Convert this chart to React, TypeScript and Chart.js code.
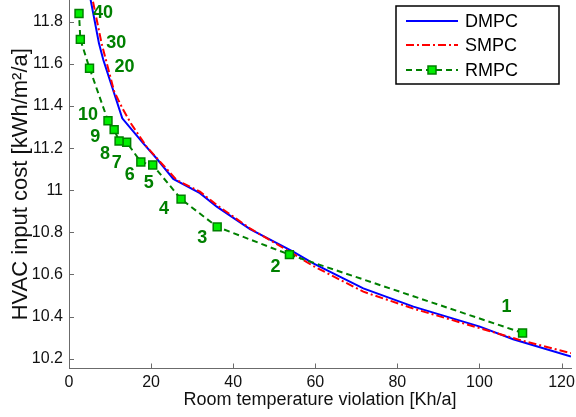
import React, { useEffect, useRef } from "react";
import { Chart, registerables } from "chart.js";

Chart.register(...registerables);

const FONT = "'Liberation Sans', Arial, Helvetica, sans-serif";

// DMPC (deterministic MPC) Pareto curve
const dmpcX = [4.63, 7.3, 8.35, 12.98, 18.1, 21.3, 25.4, 31.9, 36.0, 44.1, 54.6, 59.5, 71.7, 83.9, 100.1, 108.2, 122.3];
const dmpcY = [11.97, 11.698, 11.62, 11.342, 11.223, 11.152, 11.054, 10.986, 10.922, 10.815, 10.708, 10.653, 10.534, 10.447, 10.352, 10.292, 10.21];

// SMPC (stochastic MPC) Pareto curve
const smpcX = [5.07, 7.94, 11.0, 13.0, 15.0, 18.9, 26.2, 31.9, 36.0, 44.0, 54.0, 59.5, 71.7, 84.0, 100.0, 110.0, 122.3];
const smpcY = [11.97, 11.698, 11.47, 11.39, 11.32, 11.207, 11.049, 10.993, 10.93, 10.82, 10.705, 10.64, 10.518, 10.437, 10.345, 10.288, 10.226];

// RMPC (randomized MPC) points and their labels
const rmpcX = [110.5, 53.7, 36.1, 27.3, 20.4, 17.5, 14.05, 12.2, 11.0, 9.5, 5.0, 2.76, 2.44];
const rmpcY = [10.322, 10.694, 10.826, 10.958, 11.12, 11.134, 11.228, 11.234, 11.288, 11.33, 11.58, 11.717, 11.84];
const rmpcLabels = ["1", "2", "3", "4", "5", "6", "7", "8", "9", "10", "20", "30", "40"];

// label placement offsets (pixels) relative to each RMPC marker
const labelDX = [-16, -14, -15, -17, -4, -11, -10, -14, -19, -20, 35, 36, 24];
const labelDY = [-26, 12, 11, 10, 18, 13, 21, 13, 7, -6, -1, 4, 0];

const xTicks = [0, 20, 40, 60, 80, 100, 120];
const yTicks = [10.2, 10.4, 10.6, 10.8, 11, 11.2, 11.4, 11.6, 11.8];
const xMin = 0, xMax = 122.3;
const yMin = 10.153, yMax = 11.904;

const seriesNames = ["DMPC", "SMPC", "RMPC"];

const toPts = (xs: number[], ys: number[]) => xs.map((x, i) => ({ x, y: ys[i] }));

const AXIS_COLOR = "#6b6b6b";
const GREEN = "#008000";

const inwardTicks = {
  id: "inwardTicks",
  afterDraw(chart: any) {
    const { ctx, chartArea, scales } = chart;
    ctx.save();
    ctx.strokeStyle = AXIS_COLOR;
    ctx.lineWidth = 1;
    ctx.beginPath();
    xTicks.forEach((v) => {
      const px = Math.round(scales.x.getPixelForValue(v)) + 0.5;
      ctx.moveTo(px, chartArea.bottom);
      ctx.lineTo(px, chartArea.bottom - 5);
    });
    yTicks.forEach((v) => {
      const py = Math.round(scales.y.getPixelForValue(v)) + 0.5;
      ctx.moveTo(chartArea.left, py);
      ctx.lineTo(chartArea.left + 5, py);
    });
    ctx.stroke();
    ctx.restore();
  },
};

const pointLabels = {
  id: "pointLabels",
  afterDatasetsDraw(chart: any) {
    const meta = chart.getDatasetMeta(2);
    const { ctx } = chart;
    ctx.save();
    ctx.fillStyle = GREEN;
    ctx.font = `bold 18px ${FONT}`;
    ctx.textAlign = "center";
    ctx.textBaseline = "middle";
    meta.data.forEach((pt: any, i: number) => {
      ctx.fillText(rmpcLabels[i], pt.x + labelDX[i], pt.y + labelDY[i]);
    });
    ctx.restore();
  },
};

const boxLegend = {
  id: "boxLegend",
  afterDraw(chart: any) {
    const { ctx, chartArea } = chart;
    const x0 = chartArea.right - 175;
    const y0 = chartArea.top + 6;
    const w = 163;
    const h = 78;
    ctx.save();
    ctx.fillStyle = "#ffffff";
    ctx.fillRect(x0, y0, w, h);
    ctx.strokeStyle = "#000";
    ctx.lineWidth = 1.5;
    ctx.strokeRect(x0, y0, w, h);
    const rows = [y0 + 15, y0 + 39, y0 + 64];
    const lx0 = x0 + 10, lx1 = x0 + 62;
    chart.data.datasets.forEach((ds: any, i: number) => {
      const y = rows[i];
      ctx.beginPath();
      ctx.strokeStyle = ds.borderColor;
      ctx.lineWidth = ds.borderWidth;
      ctx.setLineDash(ds.borderDash || []);
      ctx.moveTo(lx0, y);
      ctx.lineTo(lx1, y);
      ctx.stroke();
      ctx.setLineDash([]);
      if (i === 2) {
        const s = 8;
        const cx = (lx0 + lx1) / 2;
        ctx.fillStyle = ds.pointBackgroundColor;
        ctx.fillRect(cx - s / 2, y - s / 2, s, s);
        ctx.strokeStyle = ds.pointBorderColor;
        ctx.lineWidth = ds.pointBorderWidth;
        ctx.strokeRect(cx - s / 2, y - s / 2, s, s);
      }
      ctx.fillStyle = "#000";
      ctx.font = `18px ${FONT}`;
      ctx.textAlign = "left";
      ctx.textBaseline = "middle";
      ctx.fillText(seriesNames[i], x0 + 69, y + 1);
    });
    ctx.restore();
  },
};

export default function App() {
  const ref = useRef<HTMLCanvasElement>(null);
  useEffect(() => {
    if (!ref.current) return;
    const chart = new Chart(ref.current, {
      type: "scatter",
      data: {
        datasets: [
          {
            label: seriesNames[0],
            data: toPts(dmpcX, dmpcY),
            showLine: true,
            borderColor: "#0000ff",
            borderWidth: 2,
            pointRadius: 0,
            tension: 0,
            order: 3,
          },
          {
            label: seriesNames[1],
            data: toPts(smpcX, smpcY),
            showLine: true,
            borderColor: "#ff0000",
            borderWidth: 2,
            borderDash: [8, 3, 2, 3],
            pointRadius: 0,
            tension: 0,
            order: 2,
          },
          {
            label: seriesNames[2],
            data: toPts(rmpcX, rmpcY),
            showLine: true,
            borderColor: GREEN,
            borderWidth: 2,
            borderDash: [6, 4],
            pointStyle: "rect",
            pointRadius: 5.6,
            pointBackgroundColor: "#00ee00",
            pointBorderColor: GREEN,
            pointBorderWidth: 1.5,
            tension: 0,
            order: 1,
          },
        ] as any,
      },
      options: {
        animation: false,
        responsive: true,
        maintainAspectRatio: false,
        layout: { autoPadding: false, padding: { top: 0, right: 5, left: 0, bottom: 0 } },
        plugins: {
          legend: { display: false },
          tooltip: { enabled: false },
        },
        scales: {
          x: {
            type: "linear",
            min: xMin,
            max: xMax,
            afterBuildTicks: (s: any) => {
              s.ticks = xTicks.map((v) => ({ value: v }));
            },
            afterFit: (s: any) => {
              s.height = 48.5;
              s.paddingLeft = 0;
              s.paddingRight = 0;
            },
            grid: { display: false, drawTicks: false },
            border: { display: true, color: AXIS_COLOR, width: 1 },
            ticks: {
              color: "#111",
              padding: 4,
              font: { family: FONT, size: 16 },
              maxRotation: 0,
              callback: (v: any) => String(v),
            },
            title: {
              display: true,
              text: "Room temperature violation [Kh/a]",
              color: "#111",
              font: { family: FONT, size: 18 },
              padding: { top: 0, bottom: 6.5 },
            },
          },
          y: {
            type: "linear",
            min: yMin,
            max: yMax,
            afterBuildTicks: (s: any) => {
              s.ticks = yTicks.map((v) => ({ value: v }));
            },
            afterFit: (s: any) => {
              s.width = 69;
              s.paddingTop = 0;
              s.paddingBottom = 0;
            },
            grid: { display: false, drawTicks: false },
            border: { display: true, color: AXIS_COLOR, width: 1 },
            ticks: {
              color: "#111",
              padding: 6,
              font: { family: FONT, size: 16 },
              callback: (v: any) => String(Math.round(Number(v) * 10) / 10),
            },
            title: {
              display: true,
              text: "HVAC input cost [kWh/m²/a]",
              color: "#111",
              font: { family: FONT, size: 22 },
              padding: { top: 8, bottom: 0 },
            },
          },
        },
      },
      plugins: [inwardTicks, pointLabels, boxLegend],
    });
    return () => chart.destroy();
  }, []);

  return (
    <div style={{ position: "fixed", left: 0, top: 0, width: 576, height: 417, background: "#fff" }}>
      <canvas ref={ref} />
    </div>
  );
}
